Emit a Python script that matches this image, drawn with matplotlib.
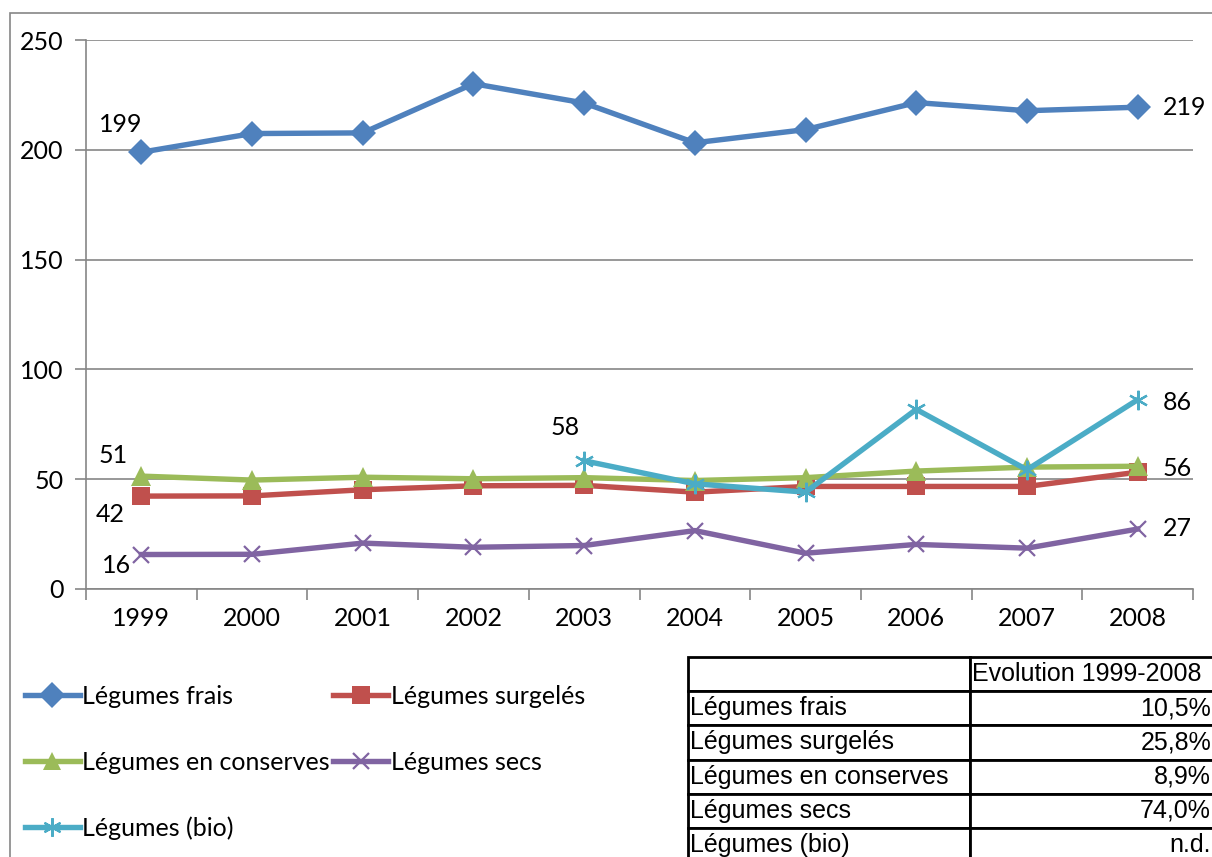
"""
Consommation de légumes 1999-2008 : courbes par type et tableau d'évolution.
Sortie : out.png
"""
import matplotlib
matplotlib.use("Agg")
import matplotlib.pyplot as plt
from matplotlib.patches import Rectangle

YEARS = ["1999", "2000", "2001", "2002", "2003", "2004", "2005", "2006", "2007", "2008"]

FRAIS = [198.9, 207.4, 207.7, 230.1, 221.3, 203.2, 209.2, 221.5, 217.8, 219.4]
SURGELES = [42.3, 42.4, 45.2, 47.0, 47.2, 44.1, 46.7, 46.7, 46.7, 53.2]
CONSERVES = [51.4, 49.6, 50.9, 50.2, 50.7, 49.4, 50.7, 53.7, 55.5, 55.9]
SECS = [15.7, 15.8, 20.9, 19.0, 19.8, 26.6, 16.3, 20.3, 18.6, 27.3]
BIO_YEARS = ["2003", "2004", "2005", "2006", "2007", "2008"]
BIO = [58.4, 47.9, 44.1, 81.8, 54.3, 86.2]

SERIES_NAMES = ["Légumes frais", "Légumes surgelés", "Légumes en conserves",
                "Légumes secs", "Légumes (bio)"]
EVOLUTION = [10.5, 25.8, 8.9, 74.0, None]
TABLE_HEADER = "Evolution 1999-2008"

COLORS = ["#4F81BD", "#C0504D", "#9BBB59", "#8064A2", "#4BACC6"]
MARKERS = [("D", 13.5, 0), ("s", 13, 0), ("^", 14, 0), ("x", 12, 1.6), ((6, 2, 0), 14, 1.6)]

GRAY = "#868686"
CHART_FONT = "Lato"
TABLE_FONT = "Liberation Sans"
FS = 18

W, H = 1212, 857


def fx(px):
    return px / W


def fy(py):
    return 1 - py / H


def main():
    fig = plt.figure(figsize=(W / 100, H / 100), dpi=100)

    # chart area border (left and top edges visible)
    fig.patches.append(Rectangle((fx(10), fy(900)), fx(1300), fy(13) - fy(900),
                                 transform=fig.transFigure, fill=False,
                                 edgecolor=GRAY, linewidth=1.2))

    ax = fig.add_axes([fx(86), fy(589), fx(1193) - fx(86), fy(40) - fy(589)])
    x_all = list(range(len(YEARS)))
    x_bio = [YEARS.index(y) for y in BIO_YEARS]

    data = [(x_all, FRAIS), (x_all, SURGELES), (x_all, CONSERVES), (x_all, SECS), (x_bio, BIO)]
    handles = []
    for i, ((xs, ys), name) in enumerate(zip(data, SERIES_NAMES)):
        m, ms, mew = MARKERS[i]
        h, = ax.plot(xs, ys, color=COLORS[i], linewidth=3.9, marker=m, markersize=ms,
                     markeredgewidth=mew, markeredgecolor=COLORS[i], label=name,
                     zorder=3 + i, clip_on=False)
        handles.append(h)

    ax.set_xlim(-0.5, len(YEARS) - 0.5)
    ax.set_ylim(0, 250)
    ax.set_yticks([0, 50, 100, 150, 200, 250])
    ax.set_xticks(x_all)
    ax.set_xticklabels(YEARS)
    ax.set_xticks([i - 0.5 for i in range(len(YEARS) + 1)], minor=True)
    ax.tick_params(axis="x", which="major", length=0, pad=13, labelsize=FS)
    ax.tick_params(axis="x", which="minor", length=8, color=GRAY, width=1.2)
    ax.tick_params(axis="y", which="major", length=8, color=GRAY, width=1.2,
                   pad=8, labelsize=FS)
    for lbl in ax.get_xticklabels() + ax.get_yticklabels():
        lbl.set_fontfamily(CHART_FONT)
    ax.grid(True, axis="y", color=GRAY, linewidth=1.2)
    ax.set_axisbelow(True)
    for side in ("top", "right"):
        ax.spines[side].set_visible(False)
    for side in ("left", "bottom"):
        ax.spines[side].set_color(GRAY)
        ax.spines[side].set_linewidth(1.2)

    # data labels on first and last points
    labels = [
        (x_all[0], FRAIS[0], (-21, 28), "center"),
        (x_all[-1], FRAIS[-1], (25, 0), "left"),
        (x_all[0], CONSERVES[0], (-28, 21), "center"),
        (x_all[0], SURGELES[0], (-31, -18), "center"),
        (x_all[0], SECS[0], (-25, -11), "center"),
        (x_bio[0], BIO[0], (-19, 33), "center"),
        (x_bio[-1], BIO[-1], (25, -3), "left"),
        (x_all[-1], CONSERVES[-1], (25, -2), "left"),
        (x_all[-1], SECS[-1], (25, 1), "left"),
    ]
    for x, y, off, ha in labels:
        ax.annotate(f"{round(y)}", (x, y), xytext=off, textcoords="offset pixels",
                    ha=ha, va="center", fontsize=FS, family=CHART_FONT,
                    annotation_clip=False)

    # legend: two columns filled row by row
    order = [0, 2, 4, 1, 3]
    leg = fig.legend([handles[i] for i in order], [SERIES_NAMES[i] for i in order],
                     ncol=2, loc="upper left", bbox_to_anchor=(fx(12), fy(672)),
                     frameon=False, handlelength=2.2, handletextpad=0.1,
                     columnspacing=0.15, labelspacing=1.72, borderpad=0,
                     prop={"family": CHART_FONT, "size": FS})
    for lh in leg.legend_handles:
        lh.set_markersize(lh.get_markersize() * 0.95)

    # evolution table
    tax = fig.add_axes([fx(688), fy(862), fx(1213) - fx(688), fy(657) - fy(862)])
    tax.axis("off")
    cells = [["", TABLE_HEADER]]
    for name, v in zip(SERIES_NAMES, EVOLUTION):
        cells.append([name, "n.d." if v is None else f"{v:.1f}%".replace(".", ",")])
    tbl = tax.table(cellText=cells, bbox=[0, 0, 1, 1], colWidths=[282, 243],
                    edges="closed")
    tbl.auto_set_font_size(False)
    for (r, c), cell in tbl.get_celld().items():
        cell.set_linewidth(2)
        cell.set_edgecolor("black")
        cell.get_text().set_fontsize(18)
        cell.get_text().set_fontfamily(TABLE_FONT)
        cell.PAD = 0.008
        if c == 0:
            cell.set_text_props(ha="left")
            cell._loc = "left"
        else:
            cell.set_text_props(ha="right")
            cell._loc = "right"
    tbl[0, 1].set_text_props(ha="left")
    tbl[0, 1]._loc = "left"

    fig.savefig("out.png", dpi=100)
    plt.close(fig)


if __name__ == "__main__":
    main()
